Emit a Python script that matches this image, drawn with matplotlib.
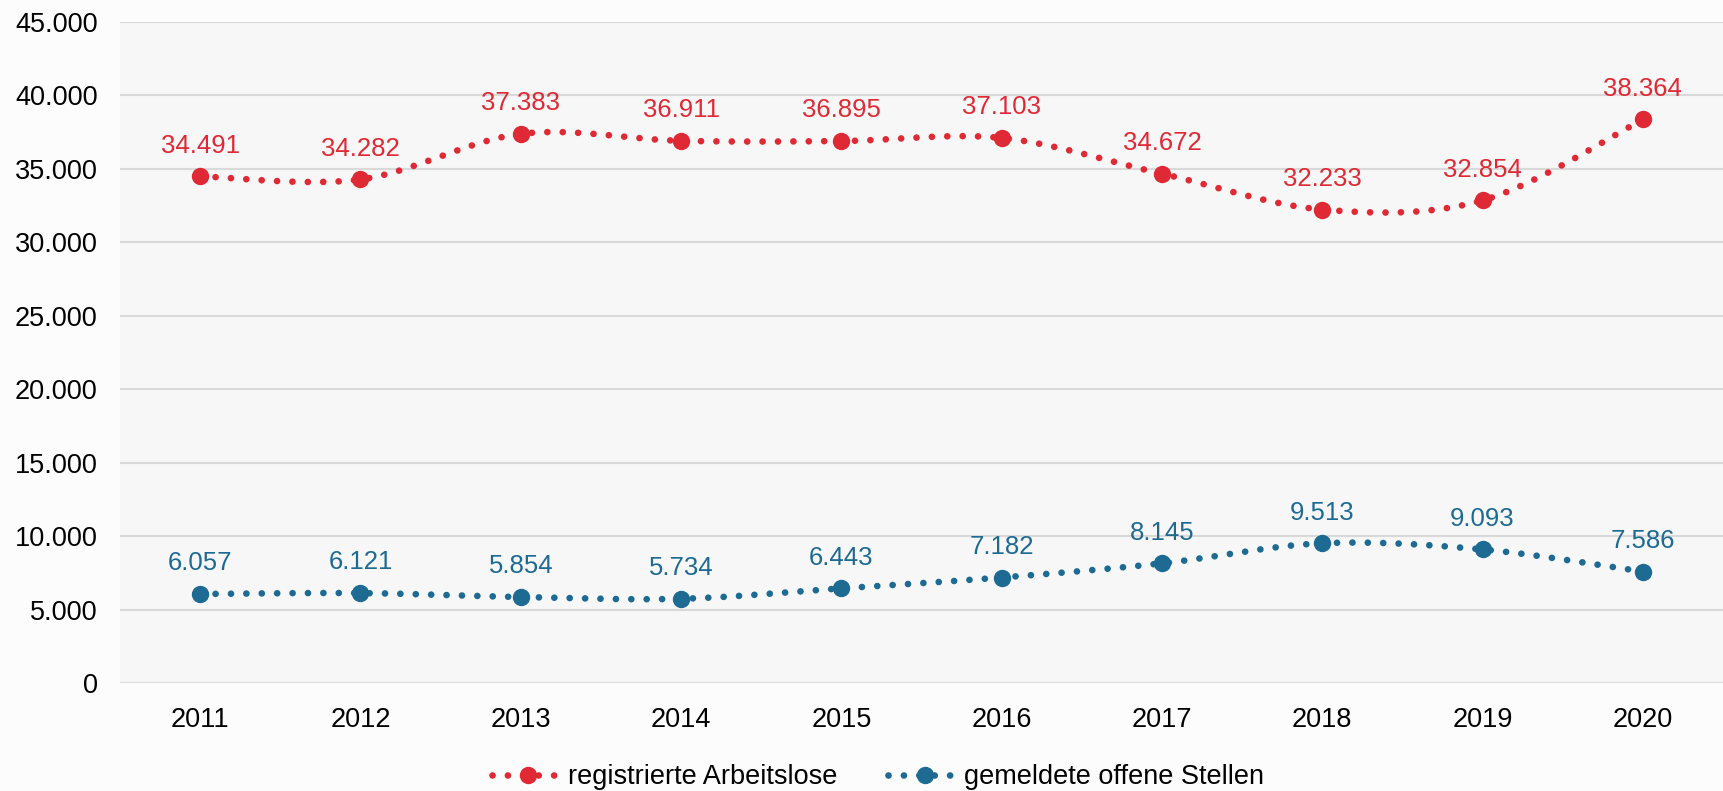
import matplotlib.pyplot as plt
import numpy as np

years = ["2011", "2012", "2013", "2014", "2015", "2016", "2017", "2018", "2019", "2020"]
arbeitslose = [34491, 34282, 37383, 36911, 36895, 37103, 34672, 32233, 32854, 38364]
stellen = [6057, 6121, 5854, 5734, 6443, 7182, 8145, 9513, 9093, 7586]
yticks = [0, 5000, 10000, 15000, 20000, 25000, 30000, 35000, 40000, 45000]

red = "#df2934"
blue = "#1d6a93"


def fmt(v):
    # german thousands separator
    return f"{v:,}".replace(",", ".")


def smooth(xs, ys, steps=40):
    # bezier smoothing like the spreadsheet "smoothed line"
    xs = np.asarray(xs, float)
    ys = np.asarray(ys, float)
    n = len(xs)
    px, py = [], []
    for i in range(n - 1):
        i0 = max(i - 1, 0)
        i3 = min(i + 2, n - 1)
        c1x = xs[i] + (xs[i + 1] - xs[i0]) / 6
        c1y = ys[i] + (ys[i + 1] - ys[i0]) / 6
        c2x = xs[i + 1] - (xs[i3] - xs[i]) / 6
        c2y = ys[i + 1] - (ys[i3] - ys[i]) / 6
        t = np.linspace(0, 1, steps, endpoint=(i == n - 2))
        a = (1 - t) ** 3
        b = 3 * (1 - t) ** 2 * t
        c = 3 * (1 - t) * t ** 2
        d = t ** 3
        px.append(a * xs[i] + b * c1x + c * c2x + d * xs[i + 1])
        py.append(a * ys[i] + b * c1y + c * c2y + d * ys[i + 1])
    return np.concatenate(px), np.concatenate(py)


plt.rcParams["font.family"] = ["Liberation Sans", "DejaVu Sans"]
fs = 19.5
fs_lab = 18.5
dots = (0, (0.01, 2.3))

fig = plt.figure(figsize=(17.23, 7.91), dpi=100, facecolor="#fcfcfc")
ax = fig.add_axes([120 / 1723, 108 / 791, 1603 / 1723, 661 / 791])
ax.set_facecolor("#f7f7f7")

x = np.arange(len(years))
for vals, col, name in [(arbeitslose, red, "registrierte Arbeitslose"),
                        (stellen, blue, "gemeldete offene Stellen")]:
    sx, sy = smooth(x, vals)
    ax.plot(sx, sy, color=col, lw=4.8, linestyle=dots,
            dash_capstyle="round", zorder=3)
    ax.plot(x, vals, "o", color=col, ms=11.5, zorder=4)
    # handle for legend
    ax.plot([], [], color=col, lw=4.8, linestyle=dots,
            dash_capstyle="round", marker="o", ms=11.5, label=name)
    for xi, v in zip(x, vals):
        ax.annotate(fmt(v), (xi, v), xytext=(0, 17), textcoords="offset points",
                    ha="center", va="baseline", color=col, fontsize=fs_lab)

ax.set_xlim(-0.5, len(years) - 0.5)
ax.set_ylim(0, 45000)
ax.set_yticks(yticks)
ax.set_yticklabels([fmt(t) for t in yticks])
ax.set_xticks(x)
ax.set_xticklabels(years)
ax.tick_params(length=0, labelsize=fs, colors="black")
ax.tick_params(axis="x", pad=17)
ax.tick_params(axis="y", pad=16)
ax.grid(axis="y", color="#d9d9d9", lw=1.5)
ax.set_axisbelow(True)
for s in ax.spines.values():
    s.set_visible(False)

fig.legend(loc="center", bbox_to_anchor=(878 / 1723, 1 - 777 / 791), ncol=2,
           frameon=False, fontsize=fs, numpoints=1, handlelength=2.7,
           handletextpad=0.1, columnspacing=1.9)

fig.savefig("out.png", dpi=100, facecolor=fig.get_facecolor())
